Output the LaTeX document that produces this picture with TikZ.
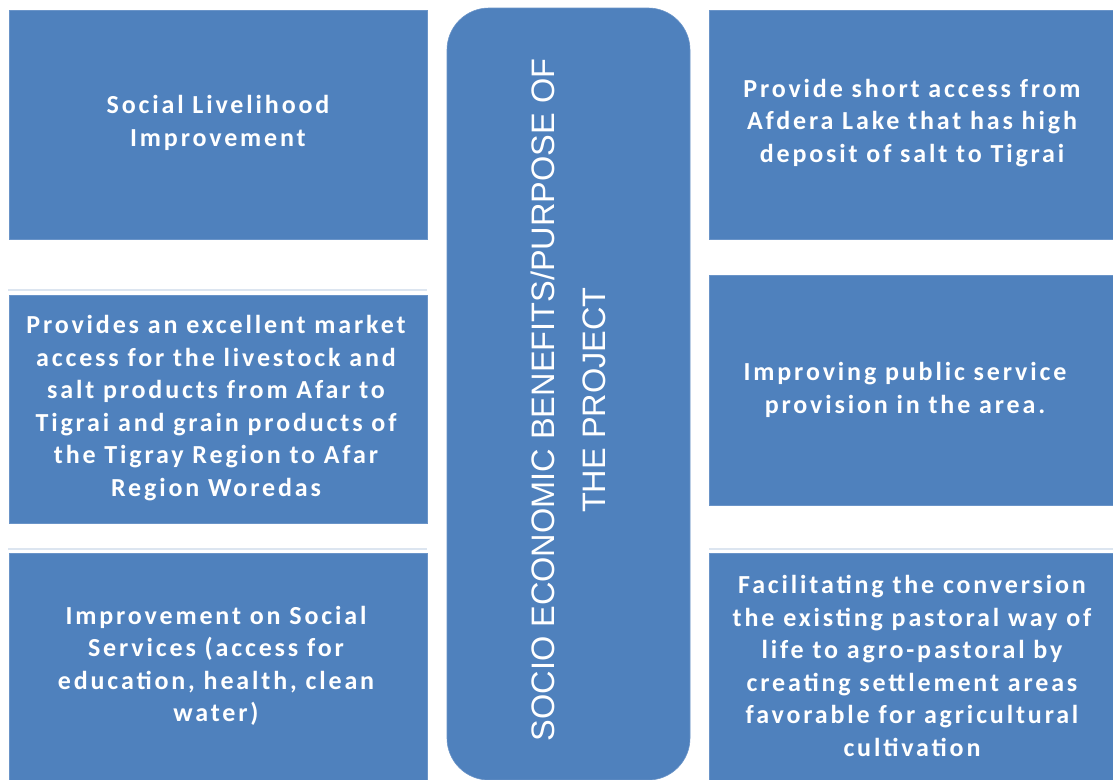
\documentclass[tikz,border=0pt]{standalone}
\usepackage{fontspec}
\newfontfamily\boxfont[LetterSpace=11]{Carlito}
\newfontfamily\midfont{Liberation Sans}
\definecolor{boxblue}{HTML}{4F81BD}
\definecolor{boxedge}{HTML}{6A94C8}
\definecolor{gleam}{HTML}{DCE5F0}
\begin{document}
\begin{tikzpicture}[x=1pt,y=-1pt,
  panel/.style={fill=boxblue,draw=boxedge,line width=0.6pt},
  paneltext/.style={text=white,align=center,font=\boxfont\bfseries\fontsize{26}{32.5}\selectfont,inner sep=0pt},
  midtext/.style={text=white,align=center,font=\midfont\fontsize{32.5}{51}\selectfont,inner sep=0pt,rotate=90}]
\useasboundingbox (0,0) rectangle (1113,779);
\fill[white] (0,0) rectangle (1113,779);
% faint gleam lines
\draw[gleam,line width=1.2pt] (8,290) -- (427,290);
\draw[gleam,line width=1.2pt] (8,549) -- (427,549);
\draw[gleam,line width=1.2pt] (709,549) -- (1113,549);
% panels
\draw[panel] (9,10) rectangle (427,239);
\draw[panel] (9,295) rectangle (427,523);
\draw[panel] (9,553) rectangle (427,790);
\draw[panel] (709,10) rectangle (1120,239);
\draw[panel] (709,275) rectangle (1120,505);
\draw[panel] (709,553) rectangle (1120,790);
\draw[panel,rounded corners=42pt] (447,8) rectangle (690,780);
% texts
\node[paneltext] (tl) at (218,123) {Social Livelihood\\Improvement};
\node[paneltext] (ml) at (216,408) {Provides an excellent market\\access for the livestock and\\salt products from Afar to\\Tigrai and grain products of\\the Tigray Region to Afar\\Region Woredas};
\node[paneltext] (bl) at (216,666) {Improvement on Social\\Services (access for\\education, health, clean\\water)};
\node[paneltext] (tr) at (912,123) {Provide short access from\\Afdera Lake that has high\\deposit of salt to Tigrai};
\node[paneltext] (mr) at (905,390) {Improving public service\\provision in the area.};
\node[paneltext] (br) at (912,666) {Facilitating the conversion\\the existing pastoral way of\\life to agro-pastoral by\\creating settlement areas\\favorable for agricultural\\cultivation};
\node[midtext] (mid) at (568.5,400) {SOCIO ECONOMIC BENEFITS/PURPOSE OF\\THE PROJECT};
\end{tikzpicture}
\end{document}
